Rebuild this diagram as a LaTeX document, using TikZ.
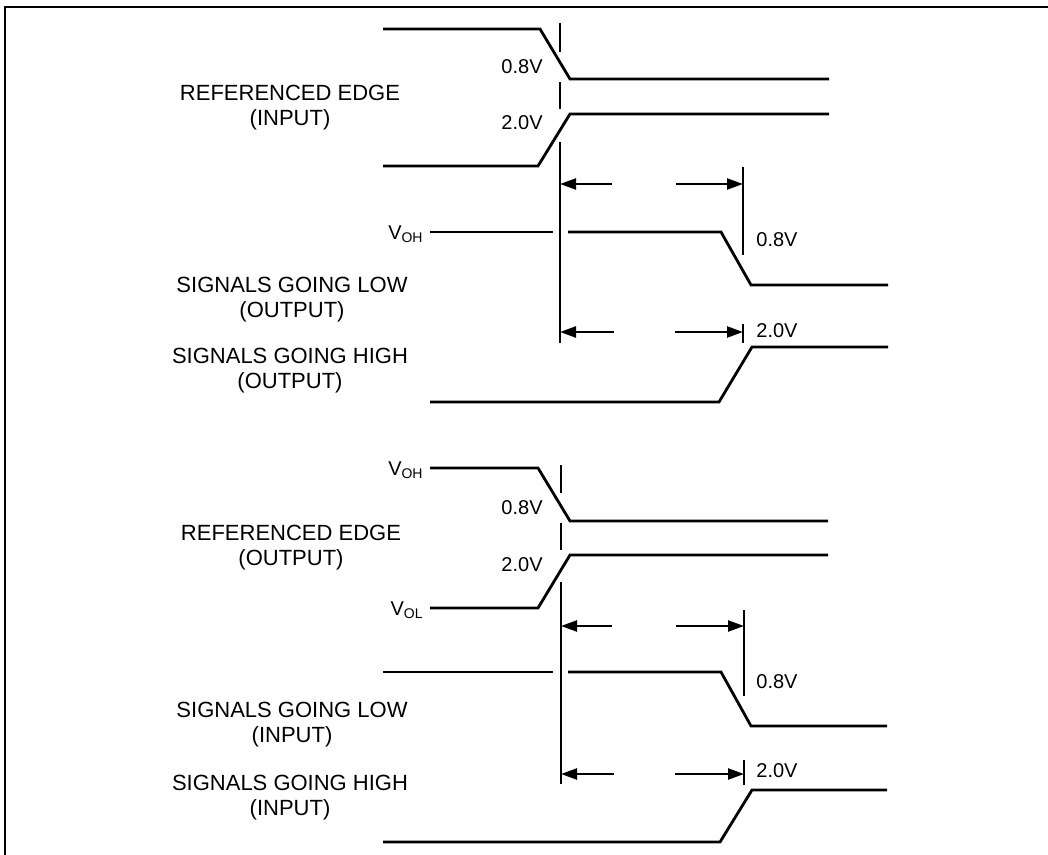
\documentclass[tikz,border=0pt]{standalone}
\usepackage{fontspec}
\setmainfont{Liberation Sans}
\usetikzlibrary{arrows.meta}
\begin{document}
\begin{tikzpicture}[x=0.5pt,y=-0.5pt,
  wave/.style={line width=1.4pt,line join=miter},
  vline/.style={line width=1.1pt},
  dim/.style={line width=1.2pt,-{Triangle[length=8pt,width=5.5pt]}},
  lbl/.style={font=\fontsize{11}{12.5}\selectfont,align=center,inner sep=0pt},
  volt/.style={font=\fontsize{10}{12}\selectfont,inner sep=0pt}]
\useasboundingbox (0,0) rectangle (1048,855);
% frame
\draw[line width=1pt] (5,855) -- (5,7) -- (1048,7);

% ===== Diagram 1 =====
\draw[wave] (383,29) -- (540,29) -- (570,79) -- (829,79);
\draw[wave] (383,166) -- (538,166) -- (570,114) -- (829,114);
\draw[vline] (560,23) -- (560,52);
\draw[vline] (560,82) -- (560,109);
\draw[vline] (560,142) -- (560,343);
\draw[vline] (743,167) -- (743,255);
\coordinate (a1l) at (560,184); \coordinate (a1r) at (743,184);
\coordinate (t1l) at (612,184); \coordinate (t1r) at (676,184);
\draw[dim] (t1l) -- (a1l);
\draw[dim] (t1r) -- (a1r);
\draw[wave] (430,232) -- (553,232);
\draw[wave] (568,232) -- (721,232) -- (751,285) -- (888,285);
\draw[vline] (743,324) -- (743,343);
\coordinate (a2l) at (560,332); \coordinate (a2r) at (743,332);
\coordinate (t2l) at (614,332); \coordinate (t2r) at (675,332);
\draw[dim] (t2l) -- (a2l);
\draw[dim] (t2r) -- (a2r);
\draw[wave] (430,402) -- (719,402) -- (752,347) -- (888,347);

\node[volt,anchor=east] (v1a) at (543,67) {0.8V};
\node[volt,anchor=east] (v1b) at (543,123) {2.0V};
\node[volt,anchor=west] (v1c) at (756,240) {0.8V};
\node[volt,anchor=west] (v1d) at (756,331) {2.0V};
\node[volt,anchor=east] (voh1) at (424,234) {V\textsubscript{OH}};

\node[lbl] (l1) at (290,107.5) {REFERENCED EDGE\\(INPUT)};
\node[lbl] (l2) at (292,300) {SIGNALS GOING LOW\\(OUTPUT)};
\node[lbl] (l3) at (290,370.5) {SIGNALS GOING HIGH\\(OUTPUT)};

% ===== Diagram 2 =====
\draw[wave] (430,468) -- (538,468) -- (570,521) -- (828,521);
\draw[wave] (430,608) -- (538,608) -- (570,555) -- (828,555);
\draw[vline] (561,465) -- (561,493);
\draw[vline] (561,523) -- (561,550);
\draw[vline] (561,582) -- (561,784);
\draw[vline] (744,610) -- (744,696);
\coordinate (a3l) at (561,626); \coordinate (a3r) at (744,626);
\coordinate (t3l) at (612,626); \coordinate (t3r) at (676,626);
\draw[dim] (t3l) -- (a3l);
\draw[dim] (t3r) -- (a3r);
\draw[wave] (383,672) -- (553,672);
\draw[wave] (568,672) -- (721,672) -- (751,726) -- (887,726);
\draw[vline] (744,760) -- (744,785);
\coordinate (a4l) at (561,774); \coordinate (a4r) at (744,774);
\coordinate (t4l) at (614,774); \coordinate (t4r) at (675,774);
\draw[dim] (t4l) -- (a4l);
\draw[dim] (t4r) -- (a4r);
\draw[wave] (383,842) -- (720,842) -- (752,790) -- (887,790);

\node[volt,anchor=east] (v2a) at (543,508) {0.8V};
\node[volt,anchor=east] (v2b) at (543,565) {2.0V};
\node[volt,anchor=west] (v2c) at (756,682) {0.8V};
\node[volt,anchor=west] (v2d) at (756,771) {2.0V};
\node[volt,anchor=east] (voh2) at (424,470) {V\textsubscript{OH}};
\node[volt,anchor=east] (vol2) at (424,610) {V\textsubscript{OL}};

\node[lbl] (l4) at (291,548) {REFERENCED EDGE\\(OUTPUT)};
\node[lbl] (l5) at (292,725) {SIGNALS GOING LOW\\(INPUT)};
\node[lbl] (l6) at (290,797.5) {SIGNALS GOING HIGH\\(INPUT)};
\end{tikzpicture}
\end{document}
